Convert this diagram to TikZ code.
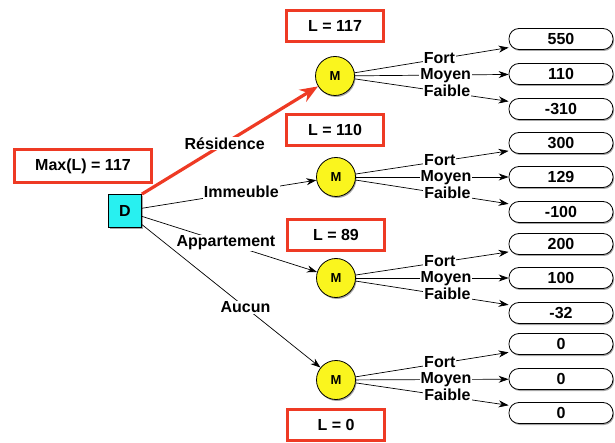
\documentclass[tikz,border=0pt]{standalone}
\usepackage{fontspec}
\setmainfont{Liberation Sans}
\usetikzlibrary{shadows,arrows.meta}
\definecolor{myred}{RGB}{238,58,36}
\definecolor{mycyan}{RGB}{40,240,240}
\definecolor{myyellow}{RGB}{250,245,30}
\tikzset{
  fnt/.style={font=\bfseries\fontsize{16}{16}\selectfont},
  lbl/.style={fnt, fill=white, inner sep=1pt},
  clbl/.style={fnt, fill=white, inner xsep=1pt, inner ysep=0pt, text height=11pt, text depth=2.5pt},
  shad/.style={drop shadow={shadow xshift=1pt, shadow yshift=-1.5pt, opacity=0.35, fill=black}},
  redbox/.style={draw=myred, line width=3.2pt, fill=white, minimum width=97pt, minimum height=31pt, fnt, shad},
  decbox/.style={draw=black, line width=0.8pt, fill=mycyan, minimum size=33pt, fnt, shad},
  chance/.style={circle, draw=black, line width=0.8pt, fill=myyellow, minimum size=39pt, inner sep=0pt, font=\bfseries\fontsize{13}{13}\selectfont, shad},
  outc/.style={draw=black, line width=0.8pt, fill=white, rounded corners=10pt, minimum width=104pt, minimum height=21pt, fnt, shad},
  conn/.style={draw=black, line width=0.7pt},
  arr/.style={conn, -{Stealth[length=10pt,width=7pt]}},
}
\begin{document}
\begin{tikzpicture}[x=1pt,y=-1pt]
\useasboundingbox (0,0) rectangle (615,443);
% nodes
\node[decbox] (D) at (125,211) {D};
\node[redbox, minimum width=137pt, minimum height=33pt] (max) at (83,166) {Max(L) = 117};
\node[chance] (M1) at (335,76) {M};
\node[chance] (M2) at (336,177) {M};
\node[chance] (M3) at (336,278) {M};
\node[chance] (M4) at (336,380) {M};
\node[redbox] (L1) at (335,26) {L = 117};
\node[redbox] (L2) at (335,130) {L = 110};
\node[redbox] (L3) at (336,235) {L = 89};
\node[redbox] (L4) at (336,425) {L = 0};
% outcomes
\node[outc] (o11) at (561,39) {550};
\node[outc] (o12) at (561,74) {110};
\node[outc] (o13) at (561,109) {-310};
\node[outc] (o21) at (561,143) {300};
\node[outc] (o22) at (561,177) {129};
\node[outc] (o23) at (561,212) {-100};
\node[outc] (o31) at (561,244) {200};
\node[outc] (o32) at (561,278) {100};
\node[outc] (o33) at (561,313) {-32};
\node[outc] (o41) at (561,344) {0};
\node[outc] (o42) at (561,379) {0};
\node[outc] (o43) at (561,413) {0};
% decision edges
\draw[draw=myred, line width=3.2pt, -{Stealth[length=18pt,width=14pt]}] (D.north east) -- node[lbl, pos=0.47] {Résidence} (M1);
\draw[arr] (D) -- node[lbl, pos=0.57] {Immeuble} (M2);
\draw[arr] (D) -- node[lbl, pos=0.48] {Appartement} (M3);
\draw[arr] (D) -- node[lbl, pos=0.58] {Aucun} (M4);
% chance edges
\foreach \m in {1,2,3,4}{
  \draw[arr] (M\m) -- node[clbl, pos=0.55] {Fort} (o\m1);
  \draw[arr] (M\m) -- node[clbl, pos=0.59] {Moyen} (o\m2);
  \draw[arr] (M\m) -- node[clbl, pos=0.6] {Faible} (o\m3);
}
\end{tikzpicture}
\end{document}
